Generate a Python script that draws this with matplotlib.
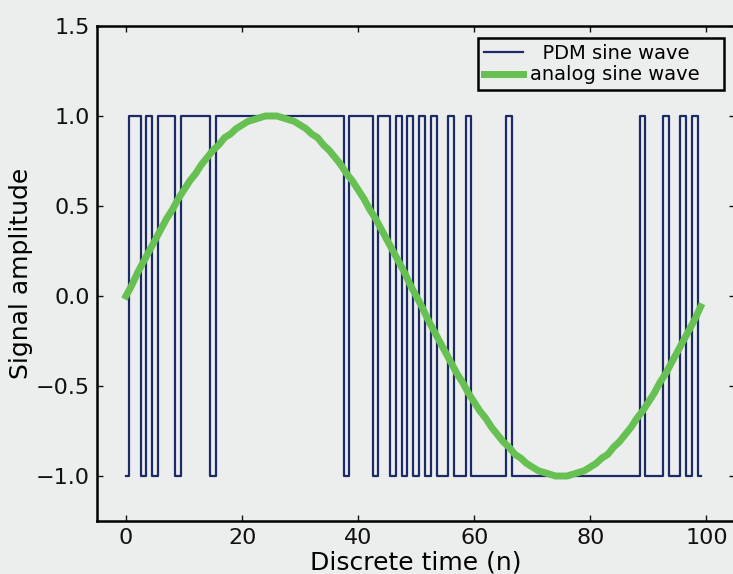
import numpy as np
import matplotlib.pyplot as plt

# discrete time index
n = list(range(100))

# analog sine wave
analog = [
    0.00, 0.06, 0.13, 0.19, 0.25, 0.31, 0.37, 0.43, 0.48, 0.54,
    0.59, 0.64, 0.68, 0.73, 0.77, 0.81, 0.84, 0.88, 0.90, 0.93,
    0.95, 0.97, 0.98, 0.99, 1.00, 1.00, 1.00, 0.99, 0.98, 0.97,
    0.95, 0.93, 0.90, 0.88, 0.84, 0.81, 0.77, 0.73, 0.68, 0.64,
    0.59, 0.54, 0.48, 0.43, 0.37, 0.31, 0.25, 0.19, 0.13, 0.06,
    0.00, -0.06, -0.13, -0.19, -0.25, -0.31, -0.37, -0.43, -0.48, -0.54,
    -0.59, -0.64, -0.68, -0.73, -0.77, -0.81, -0.84, -0.88, -0.90, -0.93,
    -0.95, -0.97, -0.98, -0.99, -1.00, -1.00, -1.00, -0.99, -0.98, -0.97,
    -0.95, -0.93, -0.90, -0.88, -0.84, -0.81, -0.77, -0.73, -0.68, -0.64,
    -0.59, -0.54, -0.48, -0.43, -0.37, -0.31, -0.25, -0.19, -0.13, -0.06,
]

# PDM pulse train (+1 / -1)
pdm = [
    -1, 1, 1, -1, 1, -1, 1, 1, 1, -1,
    1, 1, 1, 1, 1, -1, 1, 1, 1, 1,
    1, 1, 1, 1, 1, 1, 1, 1, 1, 1,
    1, 1, 1, 1, 1, 1, 1, 1, -1, 1,
    1, 1, 1, -1, 1, 1, -1, 1, -1, 1,
    -1, 1, -1, 1, -1, -1, 1, -1, -1, 1,
    -1, -1, -1, -1, -1, -1, 1, -1, -1, -1,
    -1, -1, -1, -1, -1, -1, -1, -1, -1, -1,
    -1, -1, -1, -1, -1, -1, -1, -1, -1, 1,
    -1, -1, -1, 1, -1, -1, 1, -1, 1, -1,
]

x_ticks = [0, 20, 40, 60, 80, 100]
y_ticks = [-1.0, -0.5, 0.0, 0.5, 1.0, 1.5]

BG = "#eceeed"
NAVY = "#1c2a66"
GREEN = "#66c052"

fig = plt.figure(figsize=(7.33, 5.74), dpi=100, facecolor=BG)
ax = fig.add_axes([0.1323, 0.0923, 0.871, 0.8624], facecolor=BG)

ax.plot(n, pdm, drawstyle="steps-mid", color=NAVY, lw=1.6, label="  PDM sine wave   ")
ax.plot(n, analog, color=GREEN, lw=5, label="analog sine wave   ")

ax.set_xlim(-5, 105)
ax.set_ylim(-1.25, 1.5)
ax.set_xticks(x_ticks)
ax.set_yticks(y_ticks)
ax.tick_params(direction="in", length=4, width=1, top=True, right=True,
               labelsize=16, pad=5, colors="#111111")
for s in ax.spines.values():
    s.set_linewidth(1.8)

ax.set_xlabel("Discrete time (n)", fontsize=18, labelpad=2)
ax.set_ylabel("Signal amplitude", fontsize=18, labelpad=2)

leg = ax.legend(loc="upper right", fontsize=14, fancybox=False, framealpha=1,
                handlelength=2.0, handletextpad=0.35, borderpad=0.3,
                labelspacing=0.15, borderaxespad=0.6)
leg.get_frame().set_edgecolor("black")
leg.get_frame().set_linewidth(1.8)
leg.get_frame().set_facecolor(BG)

fig.savefig("out.png", facecolor=BG)
